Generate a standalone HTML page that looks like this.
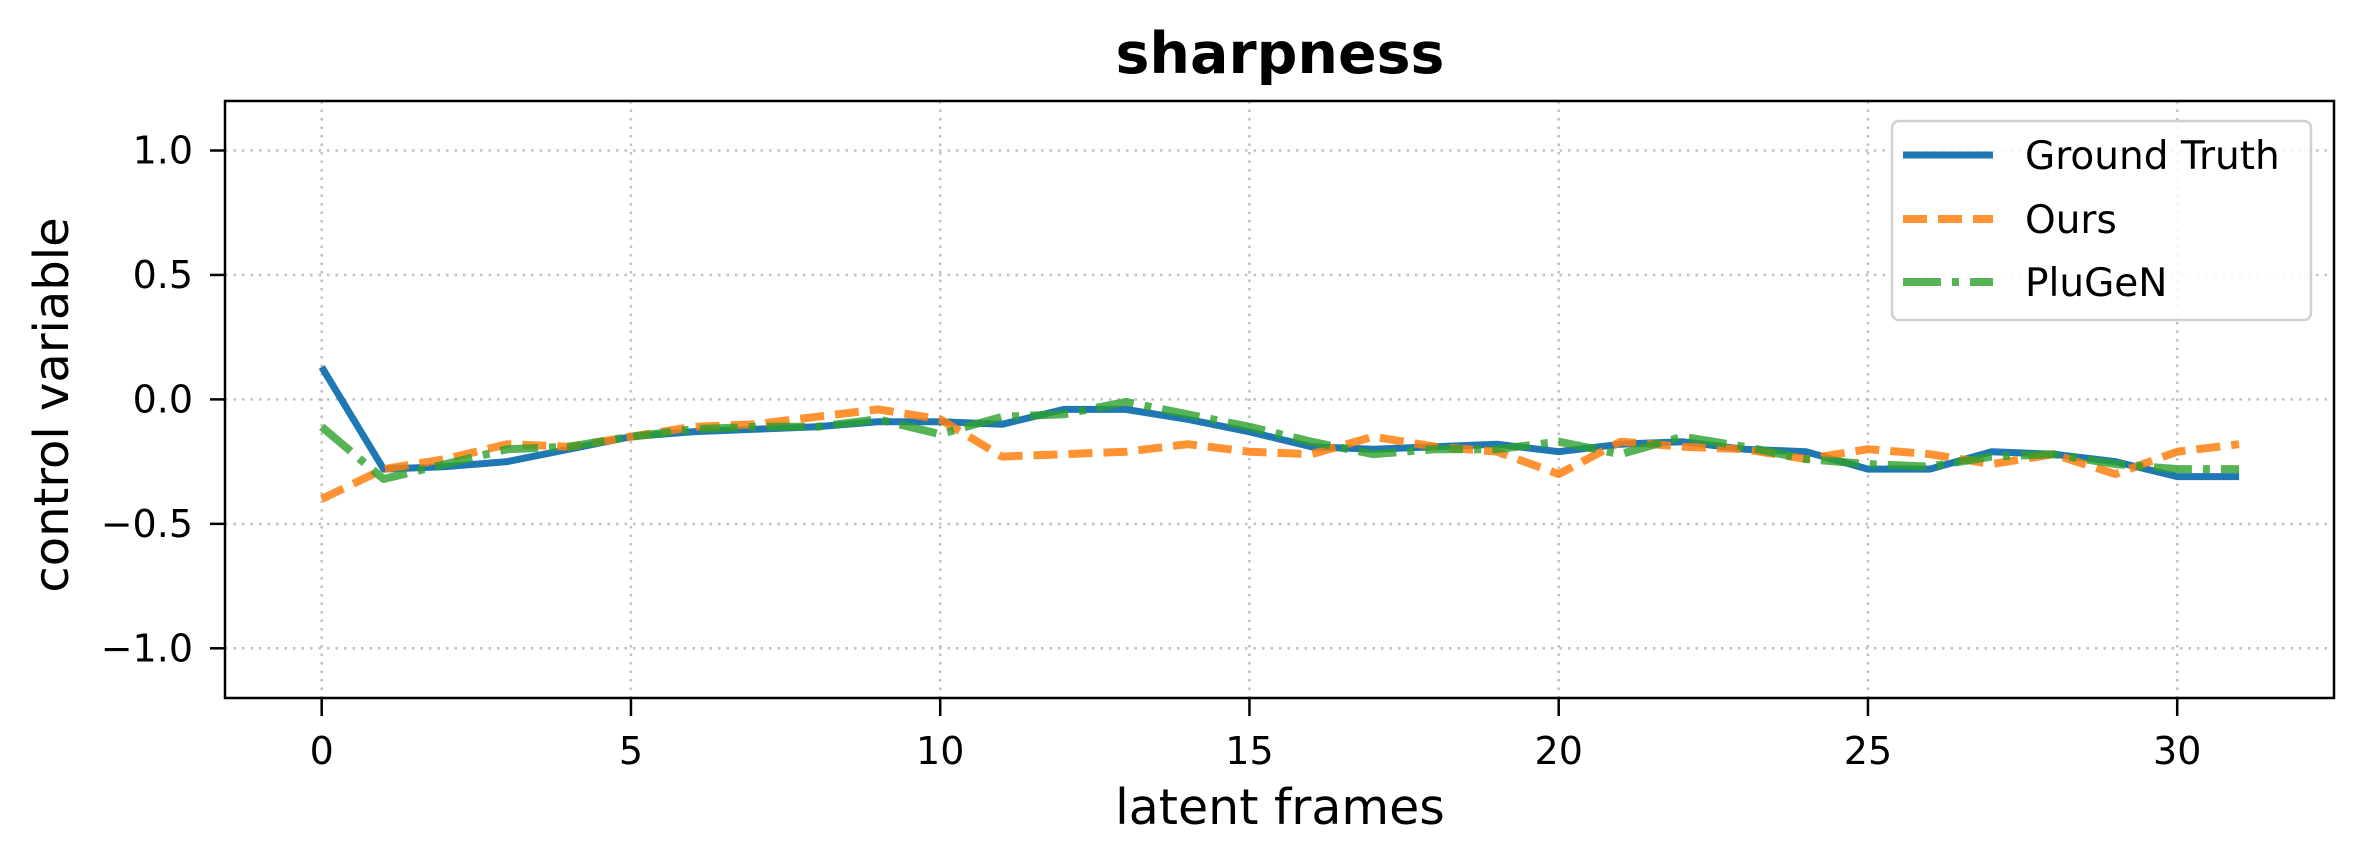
<!DOCTYPE html>
<html><head><meta charset="utf-8"><style>
html,body{margin:0;padding:0;background:#fff;}
svg{display:block;font-family:"DejaVu Sans","Liberation Sans",sans-serif;}
</style></head><body>
<svg id="chart" width="2364" height="864" viewBox="0 0 2364 864">
<rect width="2364" height="864" fill="#fff"/>
<g id="grid"></g>
<g id="series"></g>
<rect x="225" y="101" width="2109" height="597" fill="none" stroke="#000" stroke-width="2.5"/>
<g id="ticks"></g>
<text x="1280" y="73" text-anchor="middle" font-size="57" font-weight="bold">sharpness</text>
<text x="1280" y="824" text-anchor="middle" font-size="49">latent frames</text>
<text transform="translate(68,405) rotate(-90)" text-anchor="middle" font-size="48">control variable</text>
<g>
<rect x="1892" y="121" width="419" height="199" rx="7" fill="#fff" fill-opacity="0.85" stroke="#d0d0d0" stroke-width="2.5"/>
<line x1="1903" y1="155" x2="1993" y2="155" stroke="#1f77b4" stroke-width="7"/>
<text x="2025" y="169" font-size="39">Ground Truth</text>
<line x1="1903" y1="219" x2="1993" y2="219" stroke="#ff7f0e" stroke-opacity="0.85" stroke-width="8" stroke-dasharray="24,11"/>
<text x="2025" y="233" font-size="39">Ours</text>
<line x1="1903" y1="282" x2="1993" y2="282" stroke="#2ca02c" stroke-opacity="0.8" stroke-width="8" stroke-dasharray="38,11,7,11"/>
<text x="2025" y="296" font-size="39">PluGeN</text>
</g>
</svg>
<script>
const frames = Array.from({length:32},(_, i)=>i);
const groundTruth = [0.13,-0.28,-0.27,-0.25,-0.20,-0.15,-0.13,-0.12,-0.11,-0.09,-0.09,-0.10,-0.04,-0.04,-0.08,-0.13,-0.19,-0.20,-0.19,-0.18,-0.21,-0.18,-0.17,-0.20,-0.21,-0.28,-0.28,-0.21,-0.22,-0.25,-0.31,-0.31];
const ours = [-0.40,-0.28,-0.24,-0.18,-0.19,-0.15,-0.11,-0.10,-0.07,-0.04,-0.08,-0.23,-0.22,-0.21,-0.18,-0.21,-0.22,-0.15,-0.19,-0.21,-0.30,-0.17,-0.19,-0.20,-0.24,-0.20,-0.22,-0.26,-0.22,-0.30,-0.21,-0.18];
const plugen = [-0.11,-0.32,-0.26,-0.20,-0.19,-0.15,-0.12,-0.11,-0.11,-0.08,-0.14,-0.07,-0.06,-0.01,-0.06,-0.11,-0.17,-0.22,-0.20,-0.20,-0.17,-0.22,-0.15,-0.19,-0.24,-0.26,-0.27,-0.23,-0.22,-0.26,-0.28,-0.28];
const xTicks = [0,5,10,15,20,25,30];
const yTicks = [-1.0,-0.5,0.0,0.5,1.0];
const yTickLabels = ["\u22121.0","\u22120.5","0.0","0.5","1.0"];

const NS="http://www.w3.org/2000/svg";
function X(v){return 321.7 + v*61.85;}
function Y(v){return 399.4 - v*248.9;}
function mk(tag,attrs,parent){const e=document.createElementNS(NS,tag);for(const k in attrs)e.setAttribute(k,attrs[k]);parent.appendChild(e);return e;}
const grid=document.getElementById('grid'), ticks=document.getElementById('ticks'), series=document.getElementById('series');
xTicks.forEach(t=>{
  const g=mk('line',{x1:X(t),x2:X(t),y1:101,y2:698,stroke:'#b0b0b0','stroke-width':2.5,'stroke-dasharray':'2.5,6','stroke-opacity':0.8},grid);
  
  
  const tk=mk('line',{x1:X(t),x2:X(t),y1:698,y2:716,stroke:'#000','stroke-width':2.5},ticks);
  
  
  const tx=mk('text',{x:X(t),y:764,'text-anchor':'middle','font-size':38},ticks);
  tx.textContent=String(t);
  
  
});
yTicks.forEach((t,i)=>{
  const g=mk('line',{x1:225,x2:2334,y1:Y(t),y2:Y(t),stroke:'#b0b0b0','stroke-width':2.5,'stroke-dasharray':'2.5,6','stroke-opacity':0.8},grid);
  
  
  const tk=mk('line',{x1:210,x2:225,y1:Y(t),y2:Y(t),stroke:'#000','stroke-width':2.5},ticks);
  
  
  const tx=mk('text',{x:193,y:Y(t)+13,'text-anchor':'end','font-size':38},ticks);
  tx.textContent=yTickLabels[i];
  
  
});
function line(vals,attrs,name){
  const d=vals.map((v,i)=>(i?'L':'M')+X(frames[i]).toFixed(1)+','+Y(v).toFixed(1)).join(' ');
  const p=mk('path',Object.assign({d:d,fill:'none','stroke-linejoin':'round'},attrs),series);
  
  
}
line(groundTruth,{stroke:'#1f77b4','stroke-width':7},'ground-truth-line');
line(ours,{stroke:'#ff7f0e','stroke-width':8,'stroke-opacity':0.85,'stroke-dasharray':'24,11'},'ours-line');
line(plugen,{stroke:'#2ca02c','stroke-width':8,'stroke-opacity':0.8,'stroke-dasharray':'38,11,7,11'},'plugen-line');
</script>
</body></html>
